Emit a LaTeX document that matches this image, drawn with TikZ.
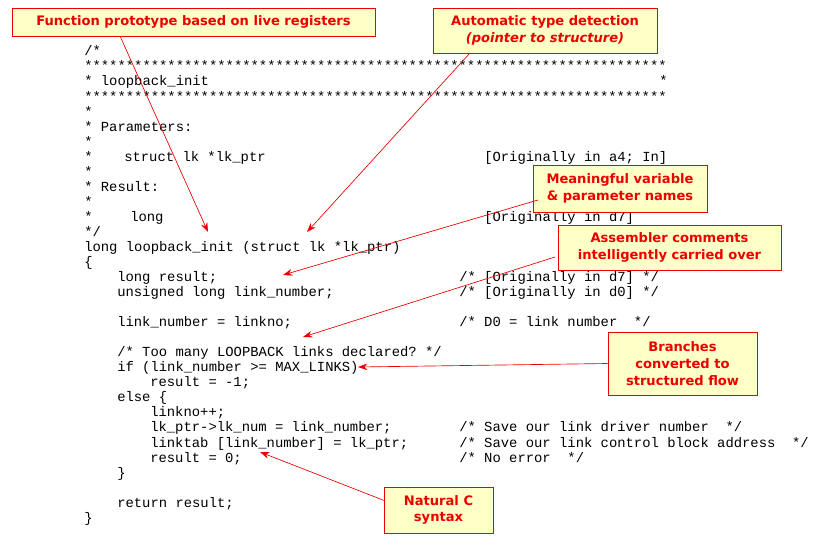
\documentclass[tikz,border=0pt]{standalone}
\usepackage{fontspec}
\setmonofont{Liberation Mono}
\newfontfamily\calloutfont{DejaVu Sans}
\usetikzlibrary{arrows.meta}
\definecolor{notered}{RGB}{235,0,0}
\definecolor{noteyellow}{RGB}{255,255,200}
\tikzset{
  note/.style={draw=notered,fill=noteyellow,text=notered,align=center,inner sep=0pt,
    font=\calloutfont\bfseries\fontsize{9.8pt}{12.6pt}\selectfont},
  pointer/.style={draw=notered,line width=0.5pt,-{Stealth[length=7pt,width=5pt]}},
}
% one line of code, placed at its pixel column and baseline
\newcommand{\codeln}[3]{\node[anchor=base west,inner sep=0pt,font=\ttfamily\fontsize{10.4pt}{11pt}\selectfont] at (#1,#2) {#3};}
\begin{document}
\begin{tikzpicture}[x=0.75pt,y=-0.75pt]
  \useasboundingbox (0,0) rectangle (820,546);
  \def\stars{**********************************************************************}
  % the listing
  \codeln{84}{55}{/*}
  \codeln{84}{70}{\stars}
  \codeln{84}{85}{* loopback\_init}
  \codeln{659}{85}{*}
  \codeln{84}{101}{\stars}
  \codeln{84}{116}{*}
  \codeln{84}{131}{* Parameters:}
  \codeln{84}{146}{*}
  \codeln{84}{161}{*}
  \codeln{124}{161}{struct lk *lk\_ptr}
  \codeln{484}{161}{[Originally in a4; In]}
  \codeln{84}{176}{*}
  \codeln{84}{191}{* Result:}
  \codeln{84}{206}{*}
  \codeln{84}{221}{*}
  \codeln{130}{221}{long}
  \codeln{484}{221}{[Originally in d7]}
  \codeln{84}{236}{*/}
  \codeln{84}{251}{long loopback\_init (struct lk *lk\_ptr)}
  \codeln{84}{266}{\{}
  \codeln{117}{281}{long result;}
  \codeln{459}{281}{/* [Originally in d7] */}
  \codeln{117}{296}{unsigned long link\_number;}
  \codeln{459}{296}{/* [Originally in d0] */}
  \codeln{117}{326}{link\_number = linkno;}
  \codeln{459}{326}{/* D0 = link number~~*/}
  \codeln{117}{356}{/* Too many LOOPBACK links declared? */}
  \codeln{117}{371}{if (link\_number >= MAX\_LINKS)}
  \codeln{150}{386}{result = -1;}
  \codeln{117}{401}{else \{}
  \codeln{150}{416}{linkno++;}
  \codeln{150}{431}{lk\_ptr->lk\_num = link\_number;}
  \codeln{459}{431}{/* Save our link driver number~~*/}
  \codeln{150}{447}{linktab [link\_number] = lk\_ptr;}
  \codeln{459}{447}{/* Save our link control block address~~*/}
  \codeln{150}{462}{result = 0;}
  \codeln{459}{462}{/* No error~~*/}
  \codeln{117}{477}{\}}
  \codeln{117}{507}{return result;}
  \codeln{84}{522}{\}}
  % callouts
  \node[note,minimum width=272.25pt,minimum height=21pt] (proto) at (193.5,22) {Function prototype based on live registers};
  \node[note,minimum width=168pt,minimum height=33.75pt] (typedet) at (545,30.5) {Automatic type detection\\\itshape(pointer to structure)};
  \node[note,minimum width=130.5pt,minimum height=35.25pt] (names) at (620,188.5) {Meaningful variable\\\& parameter names};
  \node[note,minimum width=167.25pt,minimum height=33.75pt] (comments) at (669.5,247.5) {Assembler comments\\intelligently carried over};
  \node[note,minimum width=111.75pt,minimum height=47.25pt] (branches) at (682.5,363.5) {Branches\\converted to\\structured flow};
  \node[note,minimum width=81.75pt,minimum height=34.5pt] (syntax) at (438.5,510) {Natural C\\syntax};
  \coordinate (sProto) at (120,36);
  \coordinate (tProto) at (208,232);
  \coordinate (sType) at (470,53);
  \coordinate (tType) at (307,232);
  \coordinate (sNames) at (538,200);
  \coordinate (tNames) at (283,275);
  \coordinate (sComments) at (555,257);
  \coordinate (tComments) at (303,337);
  \coordinate (tBranches) at (358,367);
  \coordinate (tSyntax) at (260,452);
  \draw[pointer] (sProto) -- (tProto);
  \draw[pointer] (sType) -- (tType);
  \draw[pointer] (sNames) -- (tNames);
  \draw[pointer] (sComments) -- (tComments);
  \draw[pointer] (branches.west) -- (tBranches);
  \draw[pointer] (syntax.170) -- (tSyntax);
\end{tikzpicture}
\end{document}
